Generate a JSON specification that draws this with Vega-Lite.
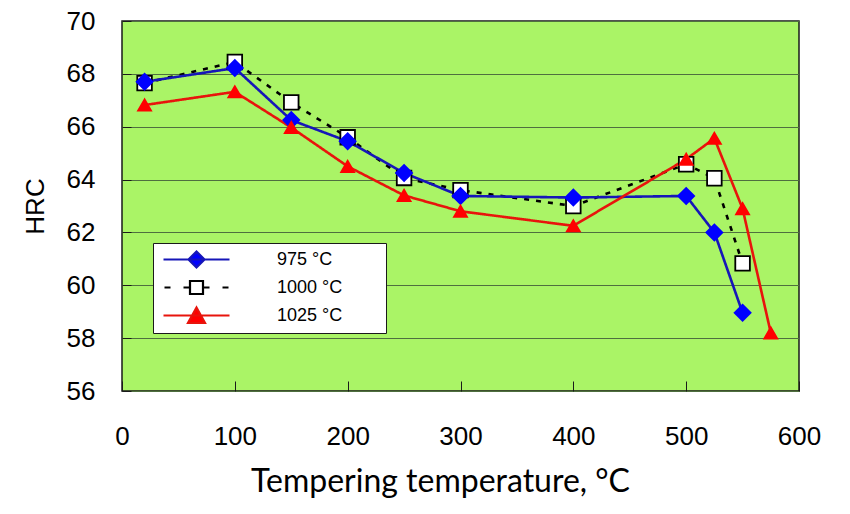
{
  "$schema": "https://vega.github.io/schema/vega-lite/v6.json",
  "width": 677,
  "height": 370,
  "autosize": {"type": "none"},
  "padding": {"left": 122, "top": 21, "right": 51, "bottom": 123},
  "background": "#ffffff",
  "config": {
    "view": {"fill": "#aaf466", "stroke": "#1a1a1a", "strokeWidth": 1.5},
    "font": "Liberation Sans"
  },
  "data": {
    "values": [
      {"t": 20, "hrc": 67.65, "series": "1000 °C"},
      {"t": 100, "hrc": 68.45, "series": "1000 °C"},
      {"t": 150, "hrc": 66.92, "series": "1000 °C"},
      {"t": 200, "hrc": 65.6, "series": "1000 °C"},
      {"t": 250, "hrc": 64.06, "series": "1000 °C"},
      {"t": 300, "hrc": 63.6, "series": "1000 °C"},
      {"t": 400, "hrc": 63.0, "series": "1000 °C"},
      {"t": 500, "hrc": 64.58, "series": "1000 °C"},
      {"t": 525, "hrc": 64.05, "series": "1000 °C"},
      {"t": 550, "hrc": 60.83, "series": "1000 °C"},
      {"t": 20, "hrc": 67.7, "series": "975 °C"},
      {"t": 100, "hrc": 68.22, "series": "975 °C"},
      {"t": 150, "hrc": 66.25, "series": "975 °C"},
      {"t": 200, "hrc": 65.45, "series": "975 °C"},
      {"t": 250, "hrc": 64.25, "series": "975 °C"},
      {"t": 300, "hrc": 63.38, "series": "975 °C"},
      {"t": 400, "hrc": 63.32, "series": "975 °C"},
      {"t": 500, "hrc": 63.38, "series": "975 °C"},
      {"t": 525, "hrc": 62.0, "series": "975 °C"},
      {"t": 550, "hrc": 58.96, "series": "975 °C"},
      {"t": 20, "hrc": 66.82, "series": "1025 °C"},
      {"t": 100, "hrc": 67.32, "series": "1025 °C"},
      {"t": 150, "hrc": 65.97, "series": "1025 °C"},
      {"t": 200, "hrc": 64.5, "series": "1025 °C"},
      {"t": 250, "hrc": 63.4, "series": "1025 °C"},
      {"t": 300, "hrc": 62.8, "series": "1025 °C"},
      {"t": 400, "hrc": 62.25, "series": "1025 °C"},
      {"t": 500, "hrc": 64.77, "series": "1025 °C"},
      {"t": 525, "hrc": 65.56, "series": "1025 °C"},
      {"t": 550, "hrc": 62.9, "series": "1025 °C"},
      {"t": 575, "hrc": 58.2, "series": "1025 °C"}
    ]
  },
  "encoding": {
    "x": {
      "field": "t", "type": "quantitative",
      "scale": {"domain": [0, 600], "nice": false, "zero": false},
      "axis": {
        "values": [0, 100, 200, 300, 400, 500, 600],
        "title": "Tempering temperature, °C",
        "titleFont": "Lato", "titleFontSize": 32, "titleFontWeight": "normal", "titleColor": "#000000",
        "titleX": 318, "titleY": 100, "titleBaseline": "alphabetic", "titleAnchor": "middle", "titleAlign": "center",
        "labelFont": "Liberation Sans", "labelFontSize": 26, "labelColor": "#000000", "labelPadding": 42,
        "labelFlush": false,
        "grid": false, "domain": false,
        "tickSize": -10, "tickColor": "#1a1a1a", "tickWidth": 1
      }
    },
    "y": {
      "field": "hrc", "type": "quantitative",
      "scale": {"domain": [56, 70], "nice": false, "zero": false},
      "axis": {
        "values": [56, 58, 60, 62, 64, 66, 68, 70],
        "title": "HRC",
        "titleFont": "Liberation Sans", "titleFontSize": 26, "titleFontWeight": "normal", "titleColor": "#000000",
        "titleAngle": -90, "titleX": -87, "titleY": 185, "titleBaseline": "middle", "titleAlign": "center",
        "labelFont": "Liberation Sans", "labelFontSize": 26, "labelColor": "#000000", "labelPadding": 36,
        "labelFlush": false,
        "grid": true, "gridColor": "#4f6f3f", "gridWidth": 1, "domain": false,
        "tickSize": -9, "tickColor": "#1a1a1a", "tickWidth": 1
      }
    }
  },
  "layer": [
    {
      "mark": {"type": "line", "strokeWidth": 2.6},
      "encoding": {
        "color": {
          "field": "series", "type": "nominal",
          "scale": {"domain": ["975 °C", "1000 °C", "1025 °C"], "range": ["#1616b8", "#000000", "#e8140c"]},
          "legend": null
        },
        "strokeDash": {
          "field": "series", "type": "nominal",
          "scale": {"domain": ["975 °C", "1000 °C", "1025 °C"], "range": [[1, 0], [5, 7], [1, 0]]},
          "legend": null
        }
      }
    },
    {
      "mark": {"type": "point", "filled": true, "opacity": 1, "strokeWidth": 1.8},
      "encoding": {
        "shape": {
          "field": "series", "type": "nominal",
          "scale": {"domain": ["975 °C", "1000 °C", "1025 °C"], "range": ["diamond", "square", "triangle-up"]},
          "legend": null
        },
        "fill": {
          "field": "series", "type": "nominal",
          "scale": {"domain": ["975 °C", "1000 °C", "1025 °C"], "range": ["#0000ff", "#ffffff", "#ff0000"]},
          "legend": null
        },
        "stroke": {
          "field": "series", "type": "nominal",
          "scale": {"domain": ["975 °C", "1000 °C", "1025 °C"], "range": ["#0000ff", "#000000", "#ff0000"]},
          "legend": null
        },
        "size": {
          "field": "series", "type": "nominal",
          "scale": {"domain": ["975 °C", "1000 °C", "1025 °C"], "range": [256, 169, 256]},
          "legend": null
        }
      }
    },
    {
      "transform": [{"filter": "false"}],
      "mark": {"type": "point", "filled": true, "opacity": 1, "strokeWidth": 2.2},
      "encoding": {
        "shape": {
          "field": "series", "type": "nominal",
          "scale": {
            "domain": ["975 °C", "1000 °C", "1025 °C"],
            "range": [
              "M-3.3,0H3.3M0,-0.8L0.8,0L0,0.8L-0.8,0Z",
              "M-3.2,0H-2.6M-1.3,0H-0.65M0.65,0H1.3M2.6,0H3.2M-0.65,-0.65H0.65V0.65H-0.65Z",
              "M-3.3,0H3.3M0,-0.8L0.85,0.75L-0.85,0.75Z"
            ]
          },
          "legend": {
            "orient": "none", "legendX": 31, "legendY": 222,
            "title": " ", "titleOrient": "right", "titlePadding": 39, "titleFontSize": 18,
            "fillColor": "#ffffff", "strokeColor": "#1a1a1a", "padding": 5,
            "symbolSize": 400, "symbolStrokeWidth": 2.2, "symbolOffset": 27,
            "labelFont": "Liberation Sans", "labelFontSize": 18, "labelColor": "#000000", "labelOffset": 69,
            "rowPadding": 4
          }
        },
        "fill": {
          "field": "series", "type": "nominal",
          "scale": {"domain": ["975 °C", "1000 °C", "1025 °C"], "range": ["#0000ff", "#ffffff", "#ff0000"]}
        },
        "stroke": {
          "field": "series", "type": "nominal",
          "scale": {"domain": ["975 °C", "1000 °C", "1025 °C"], "range": ["#1616b8", "#000000", "#e8140c"]}
        }
      }
    }
  ],
  "resolve": {"scale": {"shape": "independent", "fill": "independent", "stroke": "independent"}}
}
